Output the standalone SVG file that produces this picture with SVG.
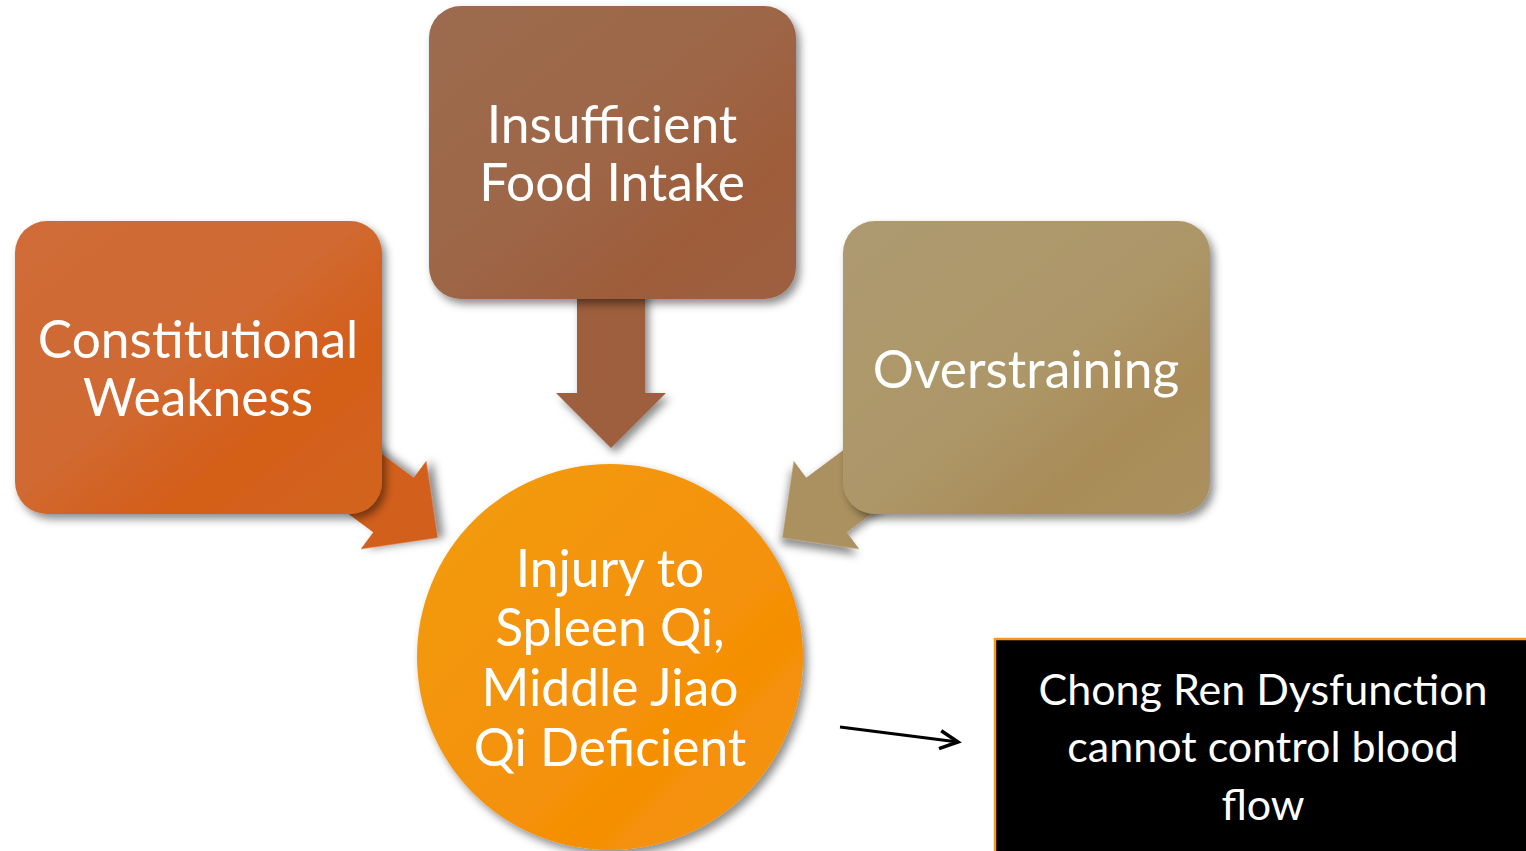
<svg xmlns="http://www.w3.org/2000/svg" width="1526" height="851" viewBox="0 0 1526 851">
<style>
.t{font-family:Lato,"Open Sans",sans-serif;fill:#fff;text-anchor:middle}
.big{font-size:51.5px}
.sm{font-size:43px}
</style>
<defs>
<filter id="sh" x="-20%" y="-20%" width="140%" height="140%">
<feDropShadow dx="4" dy="5" stdDeviation="4" flood-color="#000" flood-opacity="0.45"/>
</filter>
<linearGradient id="gL" x1="0" y1="0" x2="1" y2="1">
<stop offset="0" stop-color="#D06C38"/><stop offset="0.45" stop-color="#D06A33"/><stop offset="0.7" stop-color="#D45E18"/><stop offset="1" stop-color="#D2651F"/>
</linearGradient>
<linearGradient id="gT" x1="0" y1="0" x2="1" y2="1">
<stop offset="0" stop-color="#9C6B50"/><stop offset="0.5" stop-color="#9D6646"/><stop offset="0.75" stop-color="#9E5C3A"/><stop offset="1" stop-color="#9D6040"/>
</linearGradient>
<linearGradient id="gR" x1="0" y1="0" x2="1" y2="1">
<stop offset="0" stop-color="#AE9A70"/><stop offset="0.5" stop-color="#AD9769"/><stop offset="0.75" stop-color="#A98C58"/><stop offset="1" stop-color="#AB915F"/>
</linearGradient>
<linearGradient id="gC" x1="0" y1="0" x2="1" y2="1">
<stop offset="0" stop-color="#F29C14"/><stop offset="0.7" stop-color="#F58F05"/><stop offset="1" stop-color="#F49512"/>
</linearGradient>
<path id="arr" d="M-34,-150 L34,-150 L34,0 L55,0 L0,55 L-55,0 L-34,0 Z"/>
<marker id="open" markerWidth="24" markerHeight="24" refX="20" refY="10" orient="auto" markerUnits="userSpaceOnUse" viewBox="0 0 24 20">
<path d="M2,1 L20,10 L2,19" fill="none" stroke="#000" stroke-width="3.5" stroke-linejoin="miter"/>
</marker>
</defs>
<rect width="1526" height="851" fill="#fff"/>
<g id="connectors">
<use href="#arr" transform="translate(611,393)" fill="#9D5E3E" filter="url(#sh)"/>
<use href="#arr" transform="translate(393.5,505) rotate(-53.4)" fill="#D25F1E" filter="url(#sh)"/>
<use href="#arr" transform="translate(826.5,505) rotate(53.4)" fill="#AB915F" filter="url(#sh)"/>
<line x1="840" y1="727" x2="958" y2="742" stroke="#000" stroke-width="3" marker-end="url(#open)"/>
</g>
<g id="n-constitutional">
<rect x="15" y="221" width="367" height="293" rx="32" fill="url(#gL)" filter="url(#sh)"/>
<text class="t big" x="198" y="358">Constitutional</text>
<text class="t big" x="198" y="416">Weakness</text>
</g>
<g id="n-food">
<rect x="429" y="6" width="367" height="293" rx="32" fill="url(#gT)" filter="url(#sh)"/>
<text class="t big" x="612" y="143">Insufficient</text>
<text class="t big" x="612" y="201">Food Intake</text>
</g>
<g id="n-over">
<rect x="843" y="221" width="367" height="293" rx="32" fill="url(#gR)" filter="url(#sh)"/>
<text class="t big" x="1026" y="388">Overstraining</text>
</g>
<g id="n-spleen">
<circle cx="610" cy="657" r="193" fill="url(#gC)" filter="url(#sh)"/>
<text class="t big" x="610" y="587">Injury to</text>
<text class="t big" x="610" y="646">Spleen Qi,</text>
<text class="t big" x="610" y="706">Middle Jiao</text>
<text class="t big" x="610" y="766">Qi Deficient</text>
</g>
<g id="n-chong">
<rect x="995" y="639" width="535" height="214" fill="#000" stroke="#F39A1A" stroke-width="2.5"/>
<text class="t sm" x="1263" y="705">Chong Ren Dysfunction</text>
<text class="t sm" x="1263" y="762">cannot control blood</text>
<text class="t sm" x="1263" y="820">flow</text>
</g>
</svg>
